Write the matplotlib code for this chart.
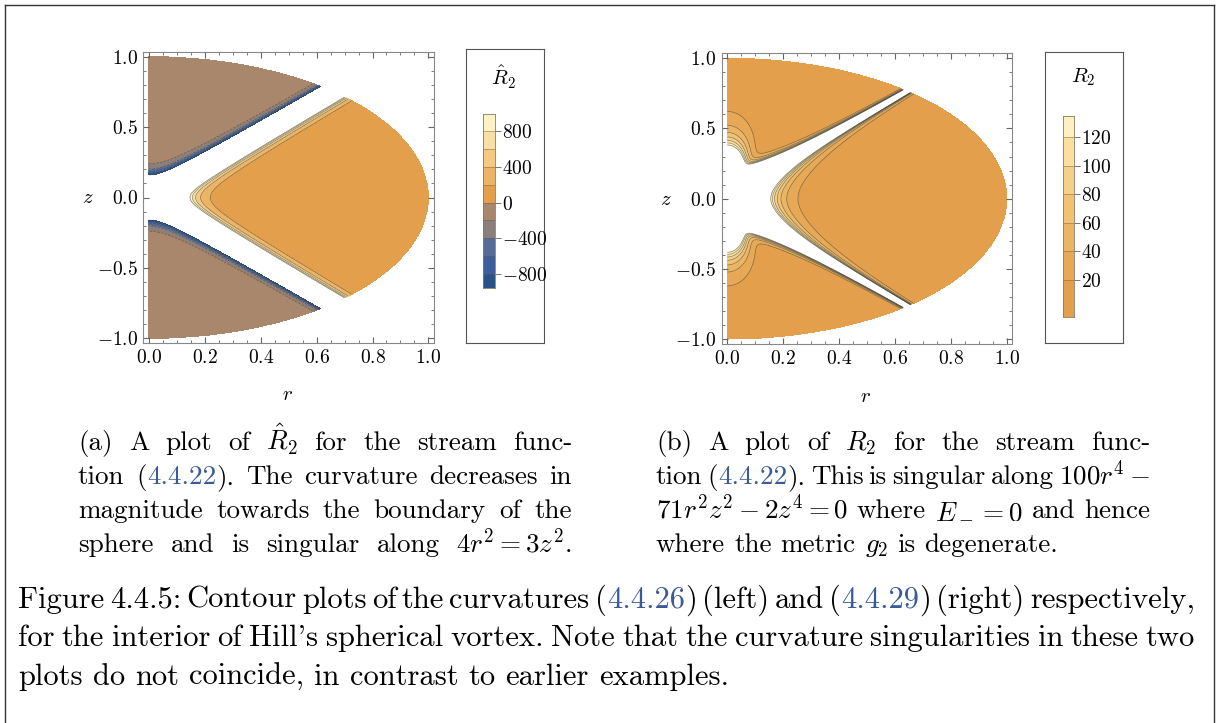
import re
import numpy as np
import matplotlib
matplotlib.use("Agg")
import matplotlib.pyplot as plt
from matplotlib.transforms import IdentityTransform
from matplotlib.lines import Line2D
from matplotlib.ticker import MultipleLocator

plt.rcParams["font.family"] = "serif"
plt.rcParams["font.serif"] = ["cmr10"]
plt.rcParams["mathtext.fontset"] = "cm"
plt.rcParams["axes.unicode_minus"] = False

W_PX, H_PX = 1219, 723

# ---- data ----
r_ticks = [0.0, 0.2, 0.4, 0.6, 0.8, 1.0]
z_ticks = [-1.0, -0.5, 0.0, 0.5, 1.0]

left_levels = [-1000, -800, -600, -400, -200, 0, 200, 400, 600, 800, 1000]
left_colors = ["#2b5288", "#3c5f9b", "#566b98", "#8a7f7b", "#a8876c",
               "#e39f4b", "#edb465", "#f5c982", "#fadfa2", "#fff3c6"]
left_bar_ticks = [-800, -400, 0, 400, 800]
left_bar_lims = (-950, 985)

right_levels = [0, 20, 40, 60, 80, 100, 120, 140]
right_colors = ["#e39f4b", "#e7a955", "#ecb563", "#f1c273", "#f6d086",
                "#fadf9e", "#fff1bf"]
right_bar_ticks = [20, 40, 60, 80, 100, 120]
right_bar_lims = (-6, 135)

# singular sets quoted in the captions
sing_left = (4.0, 3.0)              # 4 r^2 = 3 z^2
sing_right = (100.0, -71.0, -2.0)   # 100 r^4 - 71 r^2 z^2 - 2 z^4 = 0

# field shape constants (fitted by eye to the contour positions)
left_amp = (56.5, 29.6)   # orange side, brown side
left_pow = (2.92, 3.46)
right_main = (38.0, 4.0 / 3.0)
right_origin = (0.072, 2.9, 60)
right_gap_up = (2.1e-6, 4.5)

# ---- grid ----
r = np.linspace(0, 1, 800)
z = np.linspace(-1, 1, 1600)
R, Z = np.meshgrid(r, z)
rho = np.sqrt(R**2 + Z**2)

with np.errstate(divide="ignore", invalid="ignore", over="ignore"):
    Q = sing_left[0] * R**2 - sing_left[1] * Z**2
    amp = np.where(Q >= 0, left_amp[0], -left_amp[1])
    V1 = amp * rho**left_pow[0] / np.abs(Q)**left_pow[1]
    V1[(rho > 1) | (np.abs(V1) > 5000)] = np.nan

    a4, a2, a0 = sing_right
    P = a4 * R**4 + a2 * R**2 * Z**2 + a0 * Z**4
    t = (-a2 - np.sqrt(a2**2 - 4 * a0 * a4)) / (2 * a0)
    m = np.sqrt(t)
    u = np.abs(Z) / rho
    delta = (np.abs(Z) - m * R) / np.sqrt(1 + m**2)
    V_main = right_main[0] * (rho / np.abs(P))**right_main[1]
    V_up = ((right_origin[0] + right_origin[1] * u**right_origin[2]) / rho**4
            + right_gap_up[0] / (np.abs(delta)**5 * rho**right_gap_up[1]))
    V2 = np.where(P > 0, V_main, V_up)
    V2[(rho > 1) | (V2 > 1000)] = np.nan

V1 = np.ma.masked_invalid(V1)
V2 = np.ma.masked_invalid(V2)

fig = plt.figure(figsize=(W_PX / 100, H_PX / 100), dpi=100)


def px_rect(x0, y0, x1, y1):
    return [x0 / W_PX, 1 - y1 / H_PX, (x1 - x0) / W_PX, (y1 - y0) / H_PX]


def style_axes(ax):
    ax.set_xlim(-0.02, 1.02)
    ax.set_ylim(-1.035, 1.035)
    ax.set_xticks(r_ticks)
    ax.set_xticklabels([f"${v:.1f}$" for v in r_ticks])
    ax.set_yticks(z_ticks)
    ax.set_yticklabels([f"${v:.1f}$" for v in z_ticks])
    ax.xaxis.set_minor_locator(MultipleLocator(0.05))
    ax.yaxis.set_minor_locator(MultipleLocator(0.1))
    ax.tick_params(which="both", direction="in", top=True, right=True, color="#666666")
    ax.tick_params(which="major", length=4, width=0.8, labelsize=14, pad=4)
    ax.tick_params(which="minor", length=2, width=0.6)
    for s in ax.spines.values():
        s.set_color("#888888")
        s.set_linewidth(0.8)


def draw_bar(box, bar, levels, colors, lims, ticks, title, title_xy):
    bx = fig.add_axes(px_rect(*box))
    bx.set_xticks([])
    bx.set_yticks([])
    for s in bx.spines.values():
        s.set_color("#555555")
        s.set_linewidth(0.8)
    ax = fig.add_axes(px_rect(*bar))
    for lo, hi, c in zip(levels[:-1], levels[1:], colors):
        ax.axhspan(min(lo, lims[0]) if lo == levels[0] else lo, hi, color=c, lw=0)
    for lv in levels[1:-1]:
        ax.axhline(lv, color="#6b5a40", lw=0.6, alpha=0.5)
    ax.set_ylim(lims)
    ax.set_xlim(0, 1)
    ax.set_xticks([])
    ax.yaxis.tick_right()
    ax.set_yticks(ticks)
    ax.set_yticklabels([f"${v}$" for v in ticks])
    ax.tick_params(direction="out", length=4, width=0.7, color="#777777",
                   labelsize=14, pad=1)
    for s in ax.spines.values():
        s.set_color("#8a7a60")
        s.set_linewidth(0.6)
    fig.text(title_xy[0], H_PX - title_xy[1], title, transform=IdentityTransform(),
             fontsize=15, ha="center", va="center")


# ---- left contour plot ----
ax1 = fig.add_axes(px_rect(143.3, 51.7, 434, 343.3))
ax1.contourf(R, Z, V1, levels=left_levels, colors=left_colors)
ax1.contour(R, Z, V1, levels=[v for v in left_levels if v != 0],
            colors="#3a3a3a", linewidths=0.5, alpha=0.6)
style_axes(ax1)

# ---- right contour plot ----
ax2 = fig.add_axes(px_rect(721.7, 53.3, 1012.4, 344))
ax2.contourf(R, Z, V2, levels=right_levels, colors=right_colors)
ax2.contour(R, Z, V2, levels=right_levels[1:], colors="#3a3a3a",
            linewidths=0.5, alpha=0.6)
style_axes(ax2)

draw_bar((466, 49, 544, 343), (482.7, 114.3, 495, 287.7), left_levels, left_colors,
         left_bar_lims, left_bar_ticks, r"$\hat{R}_2$", (504, 77))
draw_bar((1045, 52, 1123, 343), (1062.7, 115.7, 1074.3, 316.7), right_levels,
         right_colors, right_bar_lims, right_bar_ticks, r"$R_2$", (1083, 77))

for x, y, s in [(88, 198, "$z$"), (288, 395, "$r$"), (666, 200, "$z$"), (866, 397, "$r$")]:
    fig.text(x, H_PX - y, s, transform=IdentityTransform(), fontsize=15,
             ha="center", va="center")

# ---- captions ----
BLUE = "#3a5a98"
renderer = fig.canvas.get_renderer()


def put_line(line, x0, x1, y, size, justify=True):
    words = []
    for w in line.split(" "):
        segs = []
        for part in re.split(r"(\|[^|]*\|)", w):
            if not part:
                continue
            col = BLUE if part.startswith("|") else "black"
            txt = fig.text(0, H_PX - y, part.strip("|"), transform=IdentityTransform(),
                           fontsize=size, color=col, va="baseline")
            segs.append(txt)
        widths = [s.get_window_extent(renderer).width for s in segs]
        words.append((segs, widths))
    total = sum(sum(wd) for _, wd in words)
    space = size * 100 / 72 * 0.33
    if justify and len(words) > 1:
        space = (x1 - x0 - total) / (len(words) - 1)
    x = x0
    for segs, widths in words:
        for s, wd in zip(segs, widths):
            s.set_x(x)
            x += wd
        x += space


cap_a = [r"(a) A plot of $\hat{R}_2$ for the stream func-",
         r"tion (|4.4.22|). The curvature decreases in",
         r"magnitude towards the boundary of the",
         r"sphere and is singular along $4r^2=3z^2$."]
cap_b = [r"(b) A plot of $R_2$ for the stream func-",
         r"tion (|4.4.22|). This is singular along $100r^4-$",
         r"$71r^2z^2-2z^4=0$ where $E_-=0$ and hence",
         r"where the metric $g_2$ is degenerate."]
cap_main = [r"Figure 4.4.5: Contour plots of the curvatures (|4.4.26|) (left) and (|4.4.29|) (right) respectively,",
            r"for the interior of Hill's spherical vortex. Note that the curvature singularities in these two",
            r"plots do not coincide, in contrast to earlier examples."]

SUB_SIZE = 19.5
MAIN_SIZE = 22
for i, line in enumerate(cap_a):
    put_line(line, 78, 572, 450 + 34 * i, SUB_SIZE)
for i, line in enumerate(cap_b):
    put_line(line, 656, 1150, 450 + 34 * i, SUB_SIZE, justify=(i < 3))
for i, line in enumerate(cap_main):
    put_line(line, 18, 1195, 608 + 38.5 * i, MAIN_SIZE, justify=(i < 2))

# page frame (open at the bottom, as in the scan)
for xs, ys in [([5, 5], [0, H_PX - 5]), ([5, W_PX - 5], [H_PX - 5, H_PX - 5]),
               ([W_PX - 5, W_PX - 5], [H_PX - 5, 0])]:
    fig.add_artist(Line2D(xs, ys, transform=IdentityTransform(), color="#333333", lw=1))

fig.savefig("out.png", dpi=100)
